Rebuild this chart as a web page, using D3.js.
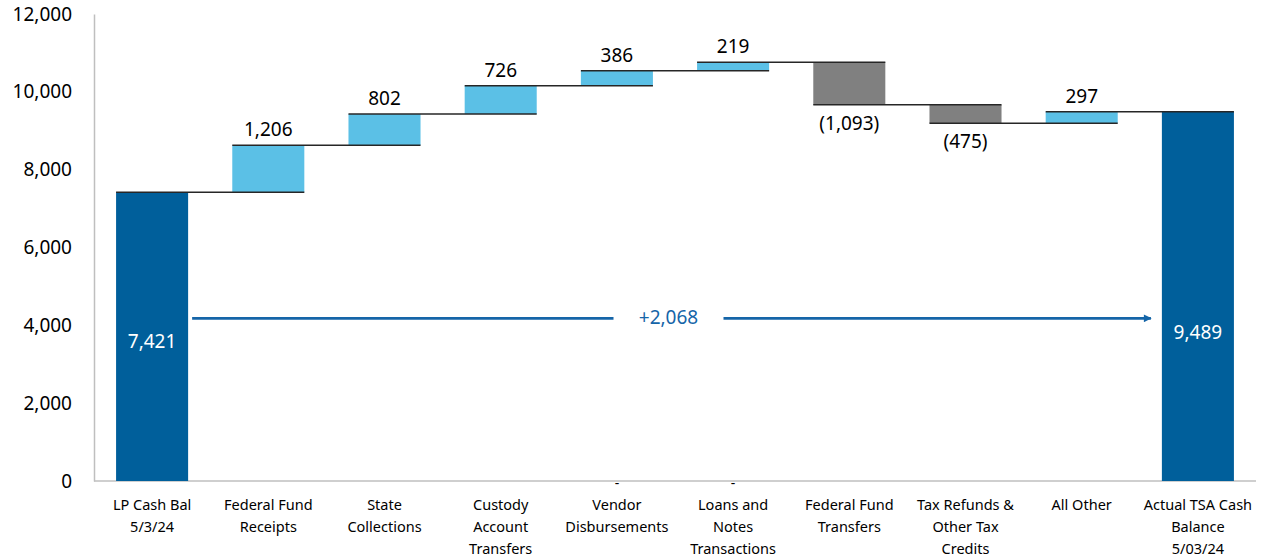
<!DOCTYPE html>
<html>
<head>
  <meta charset="UTF-8">
  <title>Cash Bridge</title>
  <script src="https://cdn.jsdelivr.net/npm/d3@7"></script>
  <style>
    body { margin: 0; background: #fff; font-family: "Noto Sans", "Open Sans", sans-serif; }
    svg text { fill: #000; }
  </style>
</head>
<body>
<div id="chart"></div>
<script>
  // categories (label lines) and the bridge values
  var categories = [
    ["LP Cash Bal", "5/3/24"],
    ["Federal Fund", "Receipts"],
    ["State", "Collections"],
    ["Custody", "Account", "Transfers"],
    ["Vendor", "Disbursements"],
    ["Loans and", "Notes", "Transactions"],
    ["Federal Fund", "Transfers"],
    ["Tax Refunds &", "Other Tax", "Credits"],
    ["All Other"],
    ["Actual TSA Cash", "Balance", "5/03/24"]
  ];
  var kinds = ["total", "step", "step", "step", "step", "step", "step", "step", "step", "total"];
  var values = [7421, 1206, 802, 726, 386, 219, -1093, -475, 297, 9489];
  var zeroMarks = [4, 5]; // categories that show a "-" label at the axis
  var yTicks = [0, 2000, 4000, 6000, 8000, 10000, 12000];
  var changeLabel = "+2,068";

  var W = 1276, H = 559;
  var svg = d3.select('#chart').append('svg')
    .attr('width', W).attr('height', H);

  var x = d3.scaleBand()
    .domain(d3.range(categories.length))
    .range([94, 1256])
    .paddingInner(0.38)
    .paddingOuter(0.19);

  var y = d3.scaleLinear().domain([0, 12000]).range([481, 14]);

  // build bar extents
  var running = 0;
  var bars = values.map(function (v, i) {
    var b;
    if (kinds[i] == "total") {
      b = { i: i, lo: 0, hi: v, v: v, kind: "total" };
      running = v;
    } else {
      var start = running;
      running = start + v;
      b = { i: i, lo: Math.min(start, running), hi: Math.max(start, running), v: v, kind: v >= 0 ? "up" : "down" };
    }
    b.end = running;
    return b;
  });

  var fmt = d3.format(",");
  var colors = { total: "#005F9B", up: "#5BC0E6", down: "#808080" };

  // y axis
  var yAxis = svg.append('g')
    .attr('transform', 'translate(94,0)')
    .call(d3.axisLeft(y).tickValues(yTicks).tickSize(0).tickPadding(22).tickFormat(fmt));
  yAxis.select('.domain').attr('stroke', '#BFBFBF').attr('stroke-width', 1.5);
  yAxis.selectAll('text')
    .attr('font-family', '"Noto Sans", sans-serif')
    .attr('font-size', 19)
    .attr('fill', '#000');

  // x baseline
  svg.append('line')
    .attr('x1', 94).attr('x2', 1256)
    .attr('y1', y(0)).attr('y2', y(0))
    .attr('stroke', '#BFBFBF').attr('stroke-width', 1.5);

  // bars
  svg.selectAll('rect.bar')
    .data(bars)
    .enter()
    .append('rect')
    .attr('class', 'bar')
    .attr('x', function (d) { return x(d.i); })
    .attr('width', x.bandwidth())
    .attr('y', function (d) { return y(d.hi); })
    .attr('height', function (d) { return y(d.lo) - y(d.hi); })
    .attr('fill', function (d) { return colors[d.kind]; });

  // connectors: from bar i left edge to bar i+1 right edge at running level
  svg.selectAll('line.conn')
    .data(bars.slice(0, bars.length - 1))
    .enter()
    .append('line')
    .attr('class', 'conn')
    .attr('x1', function (d) { return x(d.i); })
    .attr('x2', function (d) { return x(d.i + 1) + x.bandwidth(); })
    .attr('y1', function (d) { return y(d.end); })
    .attr('y2', function (d) { return y(d.end); })
    .attr('stroke', '#262626')
    .attr('stroke-width', 1.5);

  // value labels for steps
  var steps = bars.filter(function (d) { return d.kind != "total"; });
  svg.selectAll('text.val')
    .data(steps)
    .enter()
    .append('text')
    .attr('class', 'val')
    .attr('x', function (d) { return x(d.i) + x.bandwidth() / 2; })
    .attr('y', function (d) { return d.v >= 0 ? y(d.hi) - 9 : y(d.lo) + 25; })
    .attr('text-anchor', 'middle')
    .attr('font-size', 19)
    .text(function (d) { return d.v >= 0 ? fmt(d.v) : "(" + fmt(-d.v) + ")"; });

  // total labels inside bars
  svg.append('text')
    .attr('x', x(0) + x.bandwidth() / 2)
    .attr('y', y(3420))
    .attr('text-anchor', 'middle')
    .attr('font-size', 19)
    .style('fill', '#fff')
    .text(fmt(values[0]));
  svg.append('text')
    .attr('x', x(9) + x.bandwidth() / 2)
    .attr('y', y(3660))
    .attr('text-anchor', 'middle')
    .attr('font-size', 19)
    .style('fill', '#fff')
    .text(fmt(values[9]));

  // zero dashes
  svg.selectAll('text.zero')
    .data(zeroMarks)
    .enter()
    .append('text')
    .attr('class', 'zero')
    .attr('x', function (d) { return x(d) + x.bandwidth() / 2; })
    .attr('y', y(0) + 7)
    .attr('text-anchor', 'middle')
    .attr('font-size', 14)
    .text('-');

  // category labels
  var cat = svg.selectAll('text.cat')
    .data(categories)
    .enter()
    .append('text')
    .attr('class', 'cat')
    .attr('text-anchor', 'middle')
    .attr('font-size', 14.5)
    .attr('transform', function (d, i) { return 'translate(' + (x(i) + x.bandwidth() / 2) + ',' + (y(0) + 29) + ')'; });
  cat.selectAll('tspan')
    .data(function (d) { return d; })
    .enter()
    .append('tspan')
    .attr('x', 0)
    .attr('y', function (d, j) { return j * 22; })
    .text(function (d) { return d; });

  // change arrow
  var arrowBlue = "#1565A8";
  svg.append('defs').append('marker')
    .attr('id', 'head')
    .attr('viewBox', '0 0 10 10')
    .attr('refX', 9).attr('refY', 5)
    .attr('markerWidth', 4).attr('markerHeight', 3)
    .attr('markerUnits', 'strokeWidth')
    .attr('orient', 'auto')
    .append('path')
    .attr('d', 'M0,0 L10,5 L0,10 z')
    .attr('fill', arrowBlue);

  var ay = y(4180);
  var ax1 = x(0) + x.bandwidth() + 4;
  var ax2 = x(9) - 11;
  var midX = (ax1 + ax2) / 2;
  svg.append('line')
    .attr('x1', ax1).attr('x2', midX - 58)
    .attr('y1', ay).attr('y2', ay)
    .attr('stroke', arrowBlue).attr('stroke-width', 2.6);
  svg.append('line')
    .attr('x1', midX + 52).attr('x2', ax2)
    .attr('y1', ay).attr('y2', ay)
    .attr('stroke', arrowBlue).attr('stroke-width', 2.6)
    .attr('marker-end', 'url(#head)');
  svg.append('text')
    .attr('x', midX - 3)
    .attr('y', ay + 6)
    .attr('text-anchor', 'middle')
    .attr('font-size', 19)
    .style('fill', arrowBlue)
    .text(changeLabel);
</script>
</body>
</html>
